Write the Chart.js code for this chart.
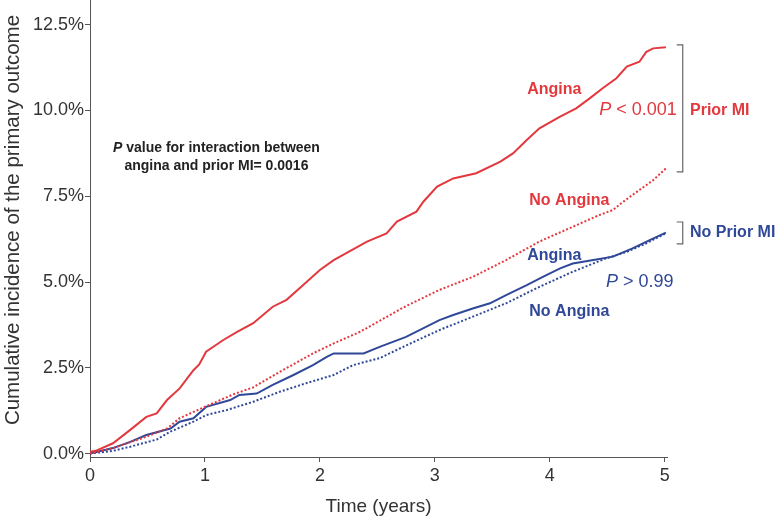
<!DOCTYPE html>
<html>
<head>
<meta charset="utf-8">
<script src="https://cdn.jsdelivr.net/npm/chart.js@4.4.0/dist/chart.umd.min.js"></script>
<style>
  html, body { margin: 0; padding: 0; background: #fff; }
  #wrap { width: 776px; height: 518px; }
</style>
</head>
<body>
<div id="wrap"><canvas id="ChartCanvas" width="776" height="518"></canvas></div>
<script>
// Prior MI, angina (red solid)
var priorAnginaX = [0, 0.05, 0.2, 0.35, 0.49, 0.58, 0.67, 0.78, 0.90, 0.95, 1.01, 1.16, 1.28, 1.42, 1.59, 1.71, 1.85, 2.0, 2.12, 2.41, 2.58, 2.67, 2.84, 2.90, 3.02, 3.16, 3.36, 3.57, 3.68, 3.80, 3.91, 4.09, 4.23, 4.35, 4.46, 4.58, 4.67, 4.78, 4.84, 4.90, 5.01];
var priorAnginaY = [0.05, 0.08, 0.30, 0.69, 1.07, 1.17, 1.56, 1.90, 2.43, 2.6, 2.97, 3.31, 3.55, 3.80, 4.28, 4.48, 4.9, 5.35, 5.64, 6.18, 6.42, 6.76, 7.05, 7.34, 7.78, 8.02, 8.17, 8.51, 8.75, 9.14, 9.48, 9.82, 10.06, 10.36, 10.65, 10.94, 11.28, 11.42, 11.71, 11.81, 11.84];
// Prior MI, no angina (red dotted)
var priorNoAnginaX = [0, 0.2, 0.49, 0.67, 0.78, 1.01, 1.25, 1.42, 1.65, 1.94, 2.12, 2.35, 2.52, 2.75, 3.04, 3.33, 3.62, 3.91, 4.20, 4.43, 4.55, 4.62, 4.70, 4.90, 5.01];
var priorNoAnginaY = [0.0, 0.16, 0.49, 0.73, 1.03, 1.38, 1.73, 1.93, 2.38, 2.92, 3.21, 3.55, 3.87, 4.3, 4.77, 5.15, 5.64, 6.18, 6.61, 6.95, 7.10, 7.29, 7.49, 7.97, 8.31];
// No prior MI, angina (blue solid)
var noPriorAnginaX = [0, 0.2, 0.35, 0.49, 0.70, 0.78, 0.90, 1.01, 1.22, 1.30, 1.45, 1.59, 1.77, 1.94, 2.06, 2.12, 2.38, 2.52, 2.75, 3.04, 3.16, 3.33, 3.48, 3.62, 3.80, 3.94, 4.09, 4.20, 4.38, 4.55, 4.72, 4.87, 5.01];
var noPriorAnginaY = [0.0, 0.16, 0.34, 0.54, 0.73, 0.93, 1.03, 1.36, 1.56, 1.71, 1.75, 2.0, 2.29, 2.58, 2.82, 2.92, 2.92, 3.11, 3.4, 3.89, 4.04, 4.23, 4.38, 4.62, 4.91, 5.15, 5.40, 5.54, 5.64, 5.74, 5.98, 6.22, 6.44];
// No prior MI, no angina (blue dotted)
var noPriorNoAnginaX = [0, 0.2, 0.35, 0.58, 0.70, 0.90, 1.01, 1.19, 1.42, 1.65, 1.88, 2.12, 2.29, 2.52, 2.75, 3.04, 3.33, 3.62, 3.91, 4.20, 4.49, 4.67, 4.84, 5.01];
var noPriorNoAnginaY = [0.0, 0.08, 0.2, 0.41, 0.64, 0.93, 1.12, 1.27, 1.51, 1.80, 2.05, 2.29, 2.58, 2.78, 3.15, 3.60, 3.99, 4.38, 4.86, 5.30, 5.69, 5.88, 6.13, 6.42];

var yTickValues = [0, 2.5, 5, 7.5, 10, 12.5];
var xTickValues = [0, 1, 2, 3, 4, 5];

var RED = 'rgb(226, 56, 62)';
var BLUE = 'rgb(48, 72, 152)';
var FONT = '"Liberation Sans", Arial, sans-serif';

function toPoints(xs, ys) {
    return xs.map((x, i) => ({ x: x, y: ys[i] }));
}

// text labels and brackets, placed in data units
var labels = [
    { text: 'Angina', x: 4.04, y: 10.6, color: RED, bold: true, align: 'center' },
    { text: 'No Angina', x: 4.17, y: 7.36, color: RED, bold: true, align: 'center' },
    { text: 'Angina', x: 4.04, y: 5.76, color: BLUE, bold: true, align: 'center' },
    { text: 'No Angina', x: 4.17, y: 4.15, color: BLUE, bold: true, align: 'center' },
    { text: 'Prior MI', x: 5.22, y: 10.01, color: RED, bold: true, align: 'left' },
    { text: 'No Prior MI', x: 5.22, y: 6.43, color: BLUE, bold: true, align: 'left' }
];
var pLabels = [
    { rest: ' < 0.001', x: 4.43, y: 10.01, color: RED },
    { rest: ' > 0.99', x: 4.49, y: 5.0, color: BLUE }
];
var brackets = [
    { x: 5.157, top: 11.91, bottom: 8.21 },
    { x: 5.157, top: 6.75, bottom: 6.11 }
];

var annotationPlugin = {
    id: 'annotations',
    afterDatasetsDraw(chart) {
        var ctx = chart.ctx;
        var xs = chart.scales.x, ys = chart.scales.y;
        ctx.save();
        ctx.textBaseline = 'middle';

        labels.forEach(l => {
            ctx.font = (l.bold ? 'bold ' : '') + '16px ' + FONT;
            ctx.fillStyle = l.color;
            ctx.textAlign = l.align;
            ctx.fillText(l.text, xs.getPixelForValue(l.x), ys.getPixelForValue(l.y));
        });

        pLabels.forEach(p => {
            var px = xs.getPixelForValue(p.x), py = ys.getPixelForValue(p.y);
            ctx.textAlign = 'left';
            ctx.fillStyle = p.color;
            ctx.font = 'italic 18px ' + FONT;
            ctx.fillText('P', px, py);
            var w = ctx.measureText('P').width;
            ctx.font = '18px ' + FONT;
            ctx.fillText(p.rest, px + w, py);
        });

        // interaction p value, two centred lines
        var cx = xs.getPixelForValue(1.10);
        ctx.fillStyle = '#222';
        ctx.font = 'bold italic 14px ' + FONT;
        var pw = ctx.measureText('P').width;
        ctx.font = 'bold 14px ' + FONT;
        var line1 = ' value for interaction between';
        var w1 = pw + ctx.measureText(line1).width;
        var y1 = ys.getPixelForValue(8.91);
        ctx.textAlign = 'left';
        ctx.font = 'bold italic 14px ' + FONT;
        ctx.fillText('P', cx - w1 / 2, y1);
        ctx.font = 'bold 14px ' + FONT;
        ctx.fillText(line1, cx - w1 / 2 + pw, y1);
        ctx.textAlign = 'center';
        ctx.fillText('angina and prior MI= 0.0016', cx, ys.getPixelForValue(8.38));

        ctx.strokeStyle = '#666';
        ctx.lineWidth = 1.2;
        brackets.forEach(b => {
            var bx = xs.getPixelForValue(b.x);
            var ty = ys.getPixelForValue(b.top), by = ys.getPixelForValue(b.bottom);
            ctx.beginPath();
            ctx.moveTo(bx - 6, ty);
            ctx.lineTo(bx, ty);
            ctx.lineTo(bx, by);
            ctx.lineTo(bx - 6, by);
            ctx.stroke();
        });

        // y axis title, drawn by hand so it sits where the original has it
        ctx.translate(13, 220);
        ctx.rotate(-Math.PI / 2);
        ctx.textAlign = 'center';
        ctx.fillStyle = '#333';
        ctx.font = '20.5px ' + FONT;
        ctx.fillText('Cumulative incidence of the primary outcome', 0, 0);
        ctx.restore();
    }
};

var chartContext = document.getElementById('ChartCanvas').getContext('2d');

var config = {
    type: 'line',
    data: {
        datasets: [
            {
                data: toPoints(priorAnginaX, priorAnginaY),
                borderColor: RED,
                borderWidth: 2
            },
            {
                data: toPoints(priorNoAnginaX, priorNoAnginaY),
                borderColor: RED,
                borderWidth: 2,
                borderDash: [2, 2]
            },
            {
                data: toPoints(noPriorAnginaX, noPriorAnginaY),
                borderColor: BLUE,
                borderWidth: 2
            },
            {
                data: toPoints(noPriorNoAnginaX, noPriorNoAnginaY),
                borderColor: BLUE,
                borderWidth: 2,
                borderDash: [2, 2]
            }
        ]
    },
    options: {
        responsive: false,
        animation: false,
        devicePixelRatio: 1,
        layout: { padding: { left: 0, right: 109, top: 0, bottom: 0 } },
        elements: {
            point: { radius: 0 },
            line: { tension: 0, fill: false }
        },
        plugins: {
            legend: { display: false },
            tooltip: { enabled: false }
        },
        scales: {
            x: {
                type: 'linear',
                min: 0,
                max: 5.02,
                afterFit: function (scale) { scale.height = 61; },
                afterBuildTicks: function (scale) {
                    scale.ticks = xTickValues.map(v => ({ value: v }));
                },
                grid: {
                    drawOnChartArea: false,
                    drawTicks: true,
                    tickLength: 5,
                    color: '#555'
                },
                border: { display: true, color: '#555', width: 1 },
                ticks: {
                    color: '#333',
                    font: { family: FONT, size: 18 },
                    padding: 3,
                    maxRotation: 0
                },
                title: {
                    display: true,
                    text: 'Time (years)',
                    color: '#333',
                    font: { family: FONT, size: 19 },
                    padding: { top: 4, bottom: 0 }
                }
            },
            y: {
                type: 'linear',
                min: -0.1,
                max: 13.22,
                afterFit: function (scale) {
                    scale.width = 90;
                    scale.paddingTop = 0;
                    scale.paddingBottom = 0;
                },
                afterBuildTicks: function (scale) {
                    scale.ticks = yTickValues.map(v => ({ value: v }));
                },
                grid: {
                    drawOnChartArea: false,
                    drawTicks: true,
                    tickLength: 5,
                    color: '#555'
                },
                border: { display: true, color: '#555', width: 1 },
                ticks: {
                    color: '#333',
                    font: { family: FONT, size: 18 },
                    padding: 1,
                    callback: function (value) {
                        return value.toFixed(1) + '%';
                    }
                }
            }
        }
    },
    plugins: [annotationPlugin]
};

var createdChart = new Chart(chartContext, config);
</script>
</body>
</html>
